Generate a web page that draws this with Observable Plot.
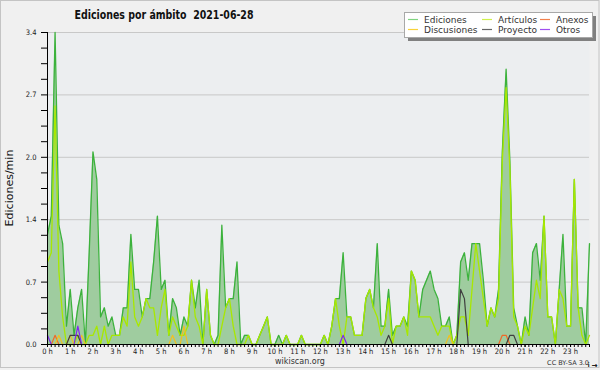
<!DOCTYPE html>
<html><head><meta charset="utf-8">
<script src="https://cdn.jsdelivr.net/npm/d3@7"></script>
<script src="https://cdn.jsdelivr.net/npm/@observablehq/plot@0.6"></script>
<style>
html,body{margin:0;padding:0;background:#f0f0f0;}
#chart svg{display:block;}
</style>
</head><body><div id="chart"></div>
<script>
// Edits per minute, one value per 10 minutes (144 points, 00:00 .. 23:50)
const ediciones = [
1.2,1.4,3.4,1.3,1.1,0.2,0.6,0.1,0.4,0.6,0.0,1.0,
2.1,1.8,0.3,0.4,0.2,0.3,0.1,0.1,0.4,0.4,1.2,0.6,
0.6,0.3,0.5,0.5,0.9,1.4,0.6,0.7,0.1,0.5,0.4,0.1,
0.3,0.2,0.7,0.4,0.7,0.0,0.6,0.1,0.0,0.1,1.3,0.4,
0.5,0.5,0.9,0.0,0.1,0.1,0.0,0.0,0.1,0.2,0.3,0.0,
0.0,0.1,0.0,0.1,0.0,0.0,0.0,0.1,0.0,0.0,0.0,0.0,
0.0,0.1,0.0,0.2,0.5,0.5,1.0,0.3,0.3,0.1,0.1,0.1,
0.5,0.6,0.4,1.1,0.2,0.2,0.6,0.1,0.2,0.2,0.3,0.2,
0.8,0.7,0.3,0.6,0.7,0.8,0.6,0.5,0.2,0.2,0.3,0.0,
0.1,0.9,1.0,0.7,1.1,1.1,1.1,0.7,0.2,0.4,0.3,0.6,
2.1,3.0,2.0,0.4,0.2,0.0,0.3,0.1,1.0,1.1,0.7,1.4,
0.3,0.3,0.0,0.6,1.2,0.2,0.2,1.8,0.4,0.4,0.0,1.1
];
const articulos = [
0.9,1.0,2.6,0.8,0.3,0.0,0.0,0.0,0.1,0.0,0.0,0.1,
0.1,0.2,0.0,0.2,0.0,0.1,0.1,0.1,0.3,0.2,0.9,0.3,
0.2,0.3,0.5,0.4,0.4,0.1,0.4,0.6,0.1,0.3,0.2,0.1,
0.1,0.2,0.7,0.3,0.2,0.0,0.6,0.1,0.0,0.0,0.2,0.4,
0.5,0.2,0.0,0.0,0.0,0.1,0.0,0.0,0.1,0.2,0.3,0.0,
0.0,0.0,0.0,0.1,0.0,0.0,0.0,0.1,0.0,0.0,0.0,0.0,
0.0,0.1,0.0,0.2,0.5,0.2,0.0,0.3,0.3,0.1,0.1,0.1,
0.5,0.6,0.4,0.3,0.1,0.2,0.5,0.0,0.2,0.2,0.3,0.1,
0.8,0.7,0.3,0.3,0.3,0.3,0.2,0.1,0.2,0.2,0.2,0.0,
0.1,0.3,0.3,0.1,0.6,1.1,0.8,0.5,0.2,0.4,0.3,0.5,
2.0,2.8,1.9,0.3,0.2,0.0,0.2,0.1,0.4,0.7,0.5,1.4,
0.3,0.3,0.0,0.6,0.5,0.2,0.2,1.8,0.4,0.1,0.0,0.1
];
const anexos = [
0,0,0.1,0,0,0,0,0,0,0,0,0,
0,0,0,0,0,0,0,0,0,0,0,0,
0,0,0,0,0,0,0,0,0,0,0,0,
0,0,0,0,0,0,0,0,0,0,0,0,
0,0,0,0,0,0,0,0,0,0,0,0,
0,0,0,0,0,0,0,0,0,0,0,0,
0,0,0,0,0,0,0,0,0,0,0,0,
0,0,0,0,0,0,0,0,0,0,0,0,
0,0,0,0,0,0,0,0,0,0,0,0,
0,0,0,0,0,0,0,0,0,0,0,0,
0.1,0.1,0,0,0,0,0,0,0,0,0,0,
0,0,0,0,0,0,0,0,0,0,0,0
];
const discusiones = [
0,0,0,0.1,0,0,0.1,0,0,0.1,0,0,
0,0,0,0,0,0,0,0,0,0,0,0,
0,0,0,0,0,0,0,0,0,0.1,0,0,
0.2,0,0,0,0,0,0,0,0,0,0,0,
0,0,0,0,0,0,0,0,0,0,0,0,
0,0,0,0,0,0,0,0,0,0,0,0,
0,0,0,0,0,0,0,0,0,0,0,0,
0,0,0,0,0,0,0,0,0,0,0,0,
0,0,0,0,0,0,0,0,0,0,0.1,0,
0,0,0,0,0,0,0,0,0,0,0,0,
0,0,0,0,0,0,0,0,0,0,0,0,
0,0,0,0,0,0,0,0,0,0,0,0
];
const proyecto = [
0,0,0,0,0,0,0.1,0.1,0.1,0,0,0,
0,0,0,0,0,0,0,0,0,0,0,0,
0,0,0,0,0,0,0,0,0,0,0,0,
0,0,0,0,0,0,0,0,0,0,0,0,
0,0,0,0,0,0,0,0,0,0,0,0,
0,0,0,0,0,0,0,0,0,0,0,0,
0,0,0,0,0,0,0,0,0,0,0,0,
0,0,0,0,0,0,0.1,0,0,0,0,0,
0,0,0,0,0,0,0,0,0,0,0,0,
0,0.6,0.5,0,0,0,0,0,0,0,0,0,
0,0,0.1,0.1,0,0,0,0,0,0,0,0,
0,0,0,0,0,0,0,0,0,0,0,0
];
const otros = [
0.1,0,0,0,0,0,0,0,0.2,0,0,0,
0,0,0,0,0,0,0,0,0,0,0,0,
0,0,0,0,0,0,0,0,0,0,0,0,
0,0,0,0,0,0,0,0,0,0,0,0,
0,0,0,0,0,0,0,0,0,0,0,0,
0,0,0,0,0,0,0,0,0,0,0,0,
0,0,0,0,0,0,0.1,0,0,0,0,0,
0,0,0,0,0,0,0,0,0,0,0,0,
0,0,0,0,0,0,0,0,0,0,0,0,
0,0,0,0,0,0,0,0,0,0,0,0,
0,0,0,0,0,0,0,0,0,0,0,0,
0,0,0,0,0,0,0,0,0,0,0,0
];
const hourLabels = ["0 h","1 h","2 h","3 h","4 h","5 h","6 h","7 h","8 h","9 h","10 h","11 h",
  "12 h","13 h","14 h","15 h","16 h","17 h","18 h","19 h","20 h","21 h","22 h","23 h"];
const yMajorTicks = [0, 0.68, 1.36, 2.04, 2.72, 3.4];
const yMinorTicks = [0.17,0.34,0.51,0.85,1.02,1.19,1.53,1.70,1.87,2.21,2.38,2.55,2.89,3.06,3.23];
const seriesNames = ["Ediciones","Artículos","Anexos","Discusiones","Proyecto","Otros"];
const legendColors = ["#80d480","#cff04c","#f2804c","#f8d23a","#666666","#a050f0"];
const titleText = "Ediciones por ámbito  2021-06-28";
const yTitle = "Ediciones/min";

const rows = ediciones.map((v, i) => ({
  i, ed: v, ar: articulos[i], an: anexos[i], di: discusiones[i], pr: proyecto[i], ot: otros[i]
}));
const pointsPerHour = rows.length / hourLabels.length;
const hourTicks = hourLabels.map((_, h) => h * pointsPerHour);

const chart = Plot.plot({
  width: 600, height: 370,
  marginLeft: 47, marginRight: 11, marginTop: 32, marginBottom: 26,
  style: {background: "#f0f0f0", fontFamily: "'DejaVu Sans Condensed','DejaVu Sans',sans-serif", fontSize: "7.5px", color: "#000", overflow: "visible"},
  x: {domain: [0, rows.length - 1], axis: null},
  y: {domain: [0, 3.4], axis: null},
  marks: [
    Plot.frame({fill: "#eceef0", stroke: "none"}),
    Plot.gridY(yMajorTicks.slice(1), {stroke: "#c8c8c8", strokeOpacity: 1, strokeWidth: 1}),
    Plot.areaY(rows, {x: "i", y: "ed", fill: "#9fcc9f", fillOpacity: 1, curve: "linear"}),
    Plot.lineY(rows, {x: "i", y: "ed", stroke: "#3cb23c", strokeWidth: 1.3}),
    Plot.lineY(rows, {x: "i", y: "ar", stroke: "#a8e800", strokeWidth: 1.3}),
    Plot.lineY(rows, {x: "i", y: "an", stroke: "#f06a28", strokeWidth: 1.2}),
    Plot.lineY(rows, {x: "i", y: "di", stroke: "#f0c020", strokeWidth: 1.2}),
    Plot.lineY(rows, {x: "i", y: "pr", stroke: "#404040", strokeWidth: 1.2}),
    Plot.lineY(rows, {x: "i", y: "ot", stroke: "#8028f0", strokeWidth: 1.2}),
    Plot.ruleX([0], {stroke: "#000", strokeWidth: 1}),
    Plot.ruleY([0], {stroke: "#000", strokeWidth: 1}),
    Plot.axisY(yMajorTicks, {tickSize: 6, tickPadding: 5, tickFormat: d => d.toFixed(1), stroke: "#000", fill: "#222"}),
    Plot.axisY(yMinorTicks, {tickSize: 6, tickFormat: () => null, stroke: "#000"}),
    Plot.axisX(d3.range(rows.length), {tickSize: 3, tickFormat: () => null, stroke: "#000"}),
    Plot.axisX(hourTicks, {tickSize: 3, tickPadding: 1.5, tickFormat: d => hourLabels[d / pointsPerHour], stroke: "#000", fill: "#222"})
  ]
});

document.getElementById("chart").appendChild(chart);
const svg = d3.select(chart);
const font = "'DejaVu Sans','Noto Sans',sans-serif";

// outer frame
svg.append("rect").attr("x", 0.5).attr("y", 0.5).attr("width", 598.5).attr("height", 367)
  .attr("fill", "none").attr("stroke", "#c4c4c4");

// title
svg.append("text").attr("x", 164).attr("y", 19).attr("text-anchor", "middle")
  .attr("font-family", font).attr("font-weight", "bold").attr("font-size", 12.5)
  .attr("textLength", 179).attr("lengthAdjust", "spacingAndGlyphs")
  .attr("fill", "#111").text(titleText);

// y title
svg.append("text").attr("transform", "translate(13,188) rotate(-90)").attr("text-anchor", "middle")
  .attr("font-family", font).attr("font-size", 11).attr("fill", "#111").text(yTitle);

// footer
svg.append("text").attr("x", 300).attr("y", 364).attr("text-anchor", "middle")
  .attr("font-family", font).attr("font-size", 8).attr("fill", "#333").text("wikiscan.org");
svg.append("text").attr("x", 589).attr("y", 364.5).attr("text-anchor", "end")
  .attr("font-family", font).attr("font-size", 6.5).attr("fill", "#333").text("CC BY-SA 3.0");

// legend
const lg = svg.append("g").attr("text-anchor", "start");
lg.append("rect").attr("x", 408).attr("y", 16).attr("width", 188).attr("height", 25).attr("fill", "#808080");
lg.append("rect").attr("x", 404.5).attr("y", 12.5).attr("width", 188).attr("height", 25)
  .attr("fill", "#fff").attr("stroke", "#a8a8a8");
const colX = [408, 482, 540], rowY = [19.5, 29.5];
seriesNames.forEach((name, k) => {
  const cx = colX[k % 3], cy = rowY[Math.floor(k / 3)];
  lg.append("line").attr("x1", cx).attr("x2", cx + 10).attr("y1", cy).attr("y2", cy)
    .attr("stroke", legendColors[k]).attr("stroke-width", 1.2);
  lg.append("text").attr("x", cx + 16).attr("y", cy + 3.2).attr("text-anchor", "start")
    .attr("font-family", font).attr("font-size", 9).attr("fill", "#333").text(name);
});
</script>
</body></html>
